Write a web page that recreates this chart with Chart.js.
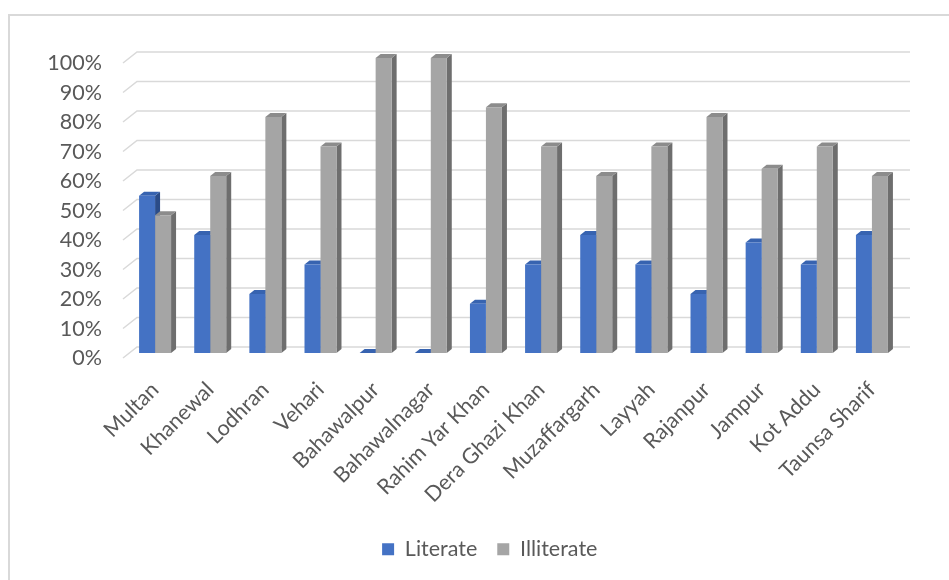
<!DOCTYPE html>
<html>
<head>
<meta charset="utf-8">
<script src="https://cdn.jsdelivr.net/npm/chart.js@4"></script>
<style>
  html, body { margin: 0; padding: 0; background: #fff; }
  #wrap { width: 949px; height: 580px; position: relative; }
</style>
</head>
<body>
<div id="wrap"><canvas id="myChart"></canvas></div>
<script>
// districts on the x axis
const districts = [
  "Multan",
  "Khanewal",
  "Lodhran",
  "Vehari",
  "Bahawalpur",
  "Bahawalnagar",
  "Rahim Yar Khan",
  "Dera Ghazi Khan",
  "Muzaffargarh",
  "Layyah",
  "Rajanpur",
  "Jampur",
  "Kot Addu",
  "Taunsa Sharif",
];

// share of respondents (0..1)
const literate = [0.533, 0.40, 0.20, 0.30, 0, 0, 0.167, 0.30, 0.40, 0.30, 0.20, 0.375, 0.30, 0.40];
const illiterate = [0.467, 0.60, 0.80, 0.70, 1, 1, 0.833, 0.70, 0.60, 0.70, 0.80, 0.625, 0.70, 0.60];

const seriesNames = ["Literate", "Illiterate"];
const frontColors = ["#4472c4", "#a5a5a5"];
const topColors = ["#3763b0", "#8c8c8c"];
const sideColors = ["#2b4c88", "#6e6e6e"];

const FONT = 'Lato, "Open Sans", sans-serif';
const FONT_SIZE = 21.5;
const TEXT = "#595959";
const GRID = "#d9d9d9";
const DX = 5, DY = 4; // depth of the bars
const PAD_BOTTOM = 10;

// 3D look: back wall grid, side wall edges, bar tops and sides
const fake3d = {
  id: "fake3d",
  afterLayout(chart) {
    // legend sits a bit right of the canvas centre
    chart.legend.left += 40;
    chart.legend.right += 40;
  },
  beforeDatasetsDraw(chart) {
    const ctx = chart.ctx;
    const y = chart.scales.y;
    const area = chart.chartArea;

    // outer frame
    ctx.save();
    ctx.strokeStyle = GRID;
    ctx.lineWidth = 2;
    ctx.beginPath();
    ctx.moveTo(9, chart.height);
    ctx.lineTo(9, 15);
    ctx.lineTo(chart.width, 15);
    ctx.stroke();

    // grid on the back wall
    ctx.lineWidth = 1.5;
    y.ticks.forEach((t) => {
      const py = y.getPixelForValue(t.value) - 6;
      ctx.beginPath();
      ctx.moveTo(area.left - 4.5, py + 11);
      ctx.lineTo(area.left + 9.5, py);
      ctx.lineTo(area.right + 10.5, py);
      ctx.stroke();
    });

    // tops and sides of every bar
    chart.data.datasets.forEach((ds, di) => {
      const meta = chart.getDatasetMeta(di);
      meta.data.forEach((bar) => {
        const xl = bar.x - bar.width / 2;
        const xr = bar.x + bar.width / 2;
        const top = bar.y;
        const base = bar.base;

        ctx.fillStyle = sideColors[di];
        ctx.beginPath();
        ctx.moveTo(xr, top);
        ctx.lineTo(xr + DX, top - DY);
        ctx.lineTo(xr + DX, base - DY);
        ctx.lineTo(xr, base);
        ctx.closePath();
        ctx.fill();

        ctx.fillStyle = topColors[di];
        ctx.beginPath();
        ctx.moveTo(xl, top);
        ctx.lineTo(xr, top);
        ctx.lineTo(xr + DX, top - DY);
        ctx.lineTo(xl + DX, top - DY);
        ctx.closePath();
        ctx.fill();
      });
    });
    ctx.restore();
  },
};

const ctx = document.getElementById("myChart").getContext("2d");
new Chart(ctx, {
  type: "bar",
  data: {
    labels: districts,
    datasets: [
      {
        label: seriesNames[0],
        data: literate,
        backgroundColor: frontColors[0],
        borderWidth: 0,
      },
      {
        label: seriesNames[1],
        data: illiterate,
        backgroundColor: frontColors[1],
        borderWidth: 0,
      },
    ],
  },
  options: {
    responsive: true,
    maintainAspectRatio: false,
    animation: false,
    datasets: {
      bar: {
        categoryPercentage: 0.58,
        barPercentage: 1,
      },
    },
    layout: {
      padding: { left: 0, right: 49.5, top: 58, bottom: PAD_BOTTOM },
    },
    scales: {
      x: {
        grid: { display: false, drawTicks: false },
        border: { display: false },
        ticks: {
          autoSkip: false,
          minRotation: 45,
          maxRotation: 45,
          padding: 24,
          color: TEXT,
          font: { family: FONT, size: FONT_SIZE },
        },
        afterFit(scale) {
          const legendH = scale.chart.legend ? scale.chart.legend.height : 60;
          scale.height = scale.chart.height - PAD_BOTTOM - legendH - 353;
        },
      },
      y: {
        min: 0,
        max: 1,
        grid: { display: false, drawTicks: false },
        border: { display: false },
        ticks: {
          stepSize: 0.1,
          padding: 25.5,
          labelOffset: 5.5,
          color: TEXT,
          font: { family: FONT, size: FONT_SIZE },
          callback: (v) => Math.round(v * 100) + "%",
        },
        afterFit(scale) {
          scale.width = 127.5;
        },
      },
    },
    plugins: {
      legend: {
        position: "bottom",
        labels: {
          boxWidth: 12,
          boxHeight: 12,
          padding: 20,
          color: TEXT,
          font: { family: FONT, size: FONT_SIZE },
        },
      },
      tooltip: { enabled: false },
    },
  },
  plugins: [fake3d],
});
</script>
</body>
</html>
